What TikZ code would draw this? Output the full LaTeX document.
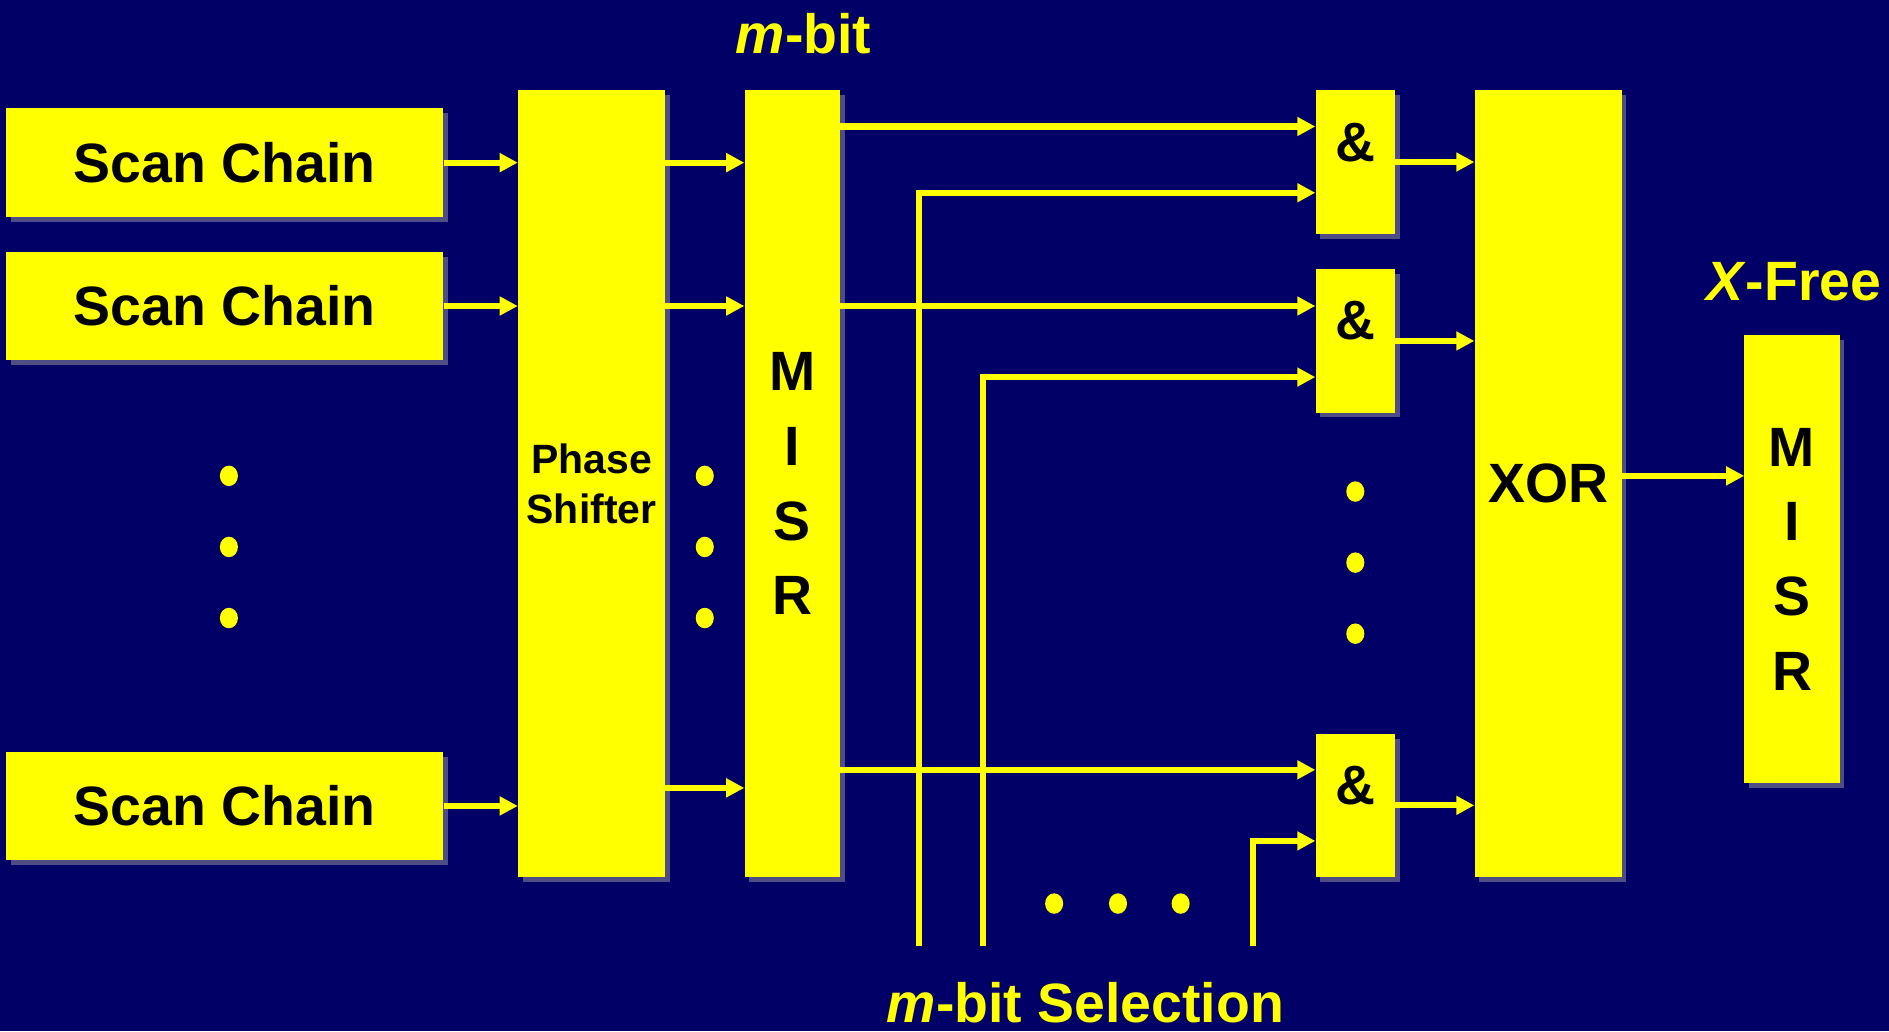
\documentclass[tikz,border=0pt]{standalone}
\usepackage{fontspec}
\setmainfont{Liberation Sans}
\usetikzlibrary{arrows.meta,shadows,calc}
\definecolor{bgc}{RGB}{0,0,102}
\definecolor{yel}{RGB}{255,255,0}
\definecolor{shc}{RGB}{78,78,132}
\newcommand\fbig{\fontsize{46}{62}\selectfont\bfseries}
\newcommand\fmid{\fontsize{34}{42}\selectfont\bfseries}
\begin{document}
\begin{tikzpicture}[x=1pt,y=-1pt,
  blk/.style={fill=yel, draw=none, inner sep=0pt, text=black, font=\fbig, align=center,
    drop shadow={shadow xshift=4pt, shadow yshift=-4pt, fill=shc, opacity=1}},
  lbl/.style={text=yel, font=\fbig, inner sep=0pt},
  amp/.style={text=black, font=\fbig, inner sep=0pt},
  arr/.style={draw=yel, line width=5pt, -{Triangle[length=15pt,width=15pt]}},
  bdot/.style={fill=yel}
]
\fill[bgc] (0,0) rectangle (1568,856);
\useasboundingbox (0,0) rectangle (1568,856);

% scan chains
\node[blk, minimum width=363pt, minimum height=90pt] (sc1) at (186.5,135) {Scan Chain};
\node[blk, minimum width=363pt, minimum height=90pt] (sc2) at (186.5,254) {Scan Chain};
\node[blk, minimum width=363pt, minimum height=90pt] (sc3) at (186.5,669) {Scan Chain};

% phase shifter and MISR
\node[blk, font=\fmid, minimum width=122pt, minimum height=653pt] (ps) at (491,401.5) {Phase\\Shifter};
\node[blk, minimum width=79pt, minimum height=653pt] (m1) at (657.5,401.5) {M\\I\\S\\R};

% AND gates
\node[blk, minimum width=66pt, minimum height=119pt] (a1) at (1125,134.5) {};
\node[blk, minimum width=66pt, minimum height=119pt] (a2) at (1125,283) {};
\node[blk, minimum width=66pt, minimum height=119pt] (a3) at (1125,668.5) {};
\node[amp] at ([yshift=16.5pt]a1.center) {\&};
\node[amp] at ([yshift=16.5pt]a2.center) {\&};
\node[amp] at ([yshift=16.5pt]a3.center) {\&};

% XOR and second MISR
\node[blk, minimum width=122pt, minimum height=653pt] (xo) at (1285,401.5) {XOR};
\node[blk, minimum width=79pt, minimum height=372pt] (m2) at (1487.5,464) {M\\I\\S\\R};

% labels
\node[lbl] (lmbit) at (667,28) {\textit{m}-bit};
\node[lbl] (lxfree) at (1489,234) {\textit{X}-Free};
\node[lbl] (lsel) at (901,832) {\textit{m}-bit Selection};

% scan chains -> phase shifter
\draw[arr] (sc1.east) -- (sc1.east -| ps.west);
\draw[arr] (sc2.east) -- (sc2.east -| ps.west);
\draw[arr] (sc3.east) -- (sc3.east -| ps.west);

% phase shifter -> MISR
\coordinate (p3) at (0,654);
\draw[arr] (ps.east |- sc1.east) -- (m1.west |- sc1.east);
\draw[arr] (ps.east |- sc2.east) -- (m1.west |- sc2.east);
\draw[arr] (ps.east |- p3) -- (m1.west |- p3);

% AND inputs
\path ([yshift=29.5pt]a1.west) coordinate (a1i1);
\path ([yshift=-25.5pt]a1.west) coordinate (a1i2);
\path ([yshift=29pt]a2.west) coordinate (a2i1);
\path ([yshift=-30pt]a2.west) coordinate (a2i2);
\path ([yshift=29.5pt]a3.west) coordinate (a3i1);
\path ([yshift=-29.5pt]a3.west) coordinate (a3i2);

\draw[arr] (m1.east |- a1i1) -- (a1i1);
\draw[arr] (m1.east |- a2i1) -- (a2i1);
\draw[arr] (m1.east |- a3i1) -- (a3i1);

% selection lines
\coordinate (s1) at (763,785);
\coordinate (s2) at (816,785);
\coordinate (s3) at (1040,785);
\draw[arr] (s1) |- (a1i2);
\draw[arr] (s2) |- (a2i2);
\draw[arr] (s3) |- (a3i2);

% AND -> XOR
\draw[arr] (a1.east) -- (a1.east -| xo.west);
\draw[arr] (a2.east) -- (a2.east -| xo.west);
\draw[arr] (a3.east) -- (a3.east -| xo.west);

% XOR -> MISR
\coordinate (xm) at (0,395);
\draw[arr] (xo.east |- xm) -- (m2.west |- xm);

% dots
\foreach \yy in {395,454,513} {
  \fill[bdot] (190,\yy) ellipse [x radius=7.5pt, y radius=8.5pt];
  \fill[bdot] (585,\yy) ellipse [x radius=7.5pt, y radius=8.5pt];
}
\foreach \yy in {408,467,526} {
  \fill[bdot] (1125,\yy) ellipse [x radius=7.5pt, y radius=8.5pt];
}
\foreach \xx in {875,928,980} {
  \fill[bdot] (\xx,750) ellipse [x radius=7.5pt, y radius=8.5pt];
}
\end{tikzpicture}
\end{document}
